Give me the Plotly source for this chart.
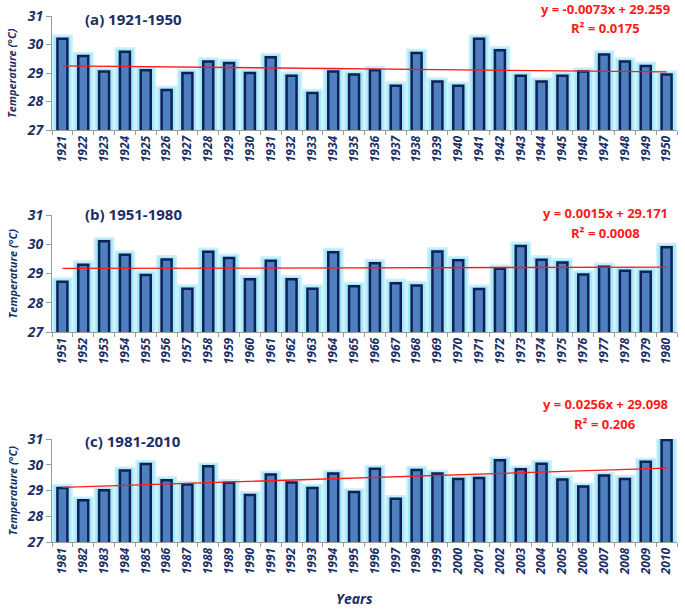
import plotly.graph_objects as go

years_a = [str(y) for y in range(1921, 1951)]
years_b = [str(y) for y in range(1951, 1981)]
years_c = [str(y) for y in range(1981, 2011)]

temp_a = [30.2, 29.6, 29.05, 29.75, 29.1, 28.4, 29.0, 29.4, 29.35, 29.0,
          29.55, 28.9, 28.3, 29.05, 28.95, 29.1, 28.55, 29.7, 28.7, 28.55,
          30.2, 29.8, 28.9, 28.7, 28.9, 29.05, 29.65, 29.4, 29.25, 28.95]
temp_b = [28.72, 29.3, 30.1, 29.64, 28.95, 29.48, 28.48, 29.74, 29.53, 28.8,
          29.44, 28.8, 28.48, 29.73, 28.56, 29.35, 28.67, 28.59, 29.75, 29.45,
          28.47, 29.16, 29.94, 29.47, 29.38, 28.97, 29.23, 29.09, 29.06, 29.9]
temp_c = [29.1, 28.62, 29.01, 29.78, 30.03, 29.4, 29.23, 29.94, 29.3, 28.83,
          29.62, 29.31, 29.1, 29.66, 28.94, 29.84, 28.68, 29.8, 29.66, 29.45,
          29.49, 30.17, 29.83, 30.04, 29.43, 29.16, 29.58, 29.45, 30.12, 30.96]

titles = ["(a) 1921-1950", "(b) 1951-1980", "(c) 1981-2010"]
slopes = [-0.0073, 0.0015, 0.0256]
intercepts = [29.259, 29.171, 29.098]
eq_texts = ["y = -0.0073x + 29.259", "y = 0.0015x + 29.171", "y = 0.0256x + 29.098"]
r2_texts = ["R² = 0.0175", "R² = 0.0008", "R² = 0.206"]
y_ticks = [27, 28, 29, 30, 31]

W, H = 685, 609
NAVY = "#1b2f66"
panels = [(years_a, temp_a), (years_b, temp_b), (years_c, temp_c)]
# pixel layout of plot areas (top, bottom)
rows_px = [(16, 130), (215, 332), (439, 542)]
x_px = (52, 677)
title_px = [19, 214, 441]
eq_px = [9, 213, 404]
r2_px = [28, 233, 424]

fig = go.Figure()
layout = dict(width=W, height=H, margin=dict(l=0, r=0, t=0, b=0, autoexpand=False),
              plot_bgcolor="white", paper_bgcolor="white", showlegend=False,
              barmode="overlay", annotations=[])

for i, ((yrs, vals), (top, bot)) in enumerate(zip(panels, rows_px)):
    xa = "x" if i == 0 else f"x{i+1}"
    ya = "y" if i == 0 else f"y{i+1}"
    # glow layers
    fig.add_trace(go.Bar(x=yrs, y=[v + 0.15 for v in vals], width=1.0,
                         marker=dict(color="#c9f1fb", line=dict(width=0)),
                         xaxis=xa, yaxis=ya, hoverinfo="skip"))
    fig.add_trace(go.Bar(x=yrs, y=[v + 0.08 for v in vals], width=0.82,
                         marker=dict(color="#a5e6f7", line=dict(width=0)),
                         xaxis=xa, yaxis=ya, hoverinfo="skip"))
    fig.add_trace(go.Bar(x=yrs, y=vals, width=0.48,
                         marker=dict(color="#4f7fbf", line=dict(color="#0c2259", width=2.5)),
                         xaxis=xa, yaxis=ya))
    n = len(yrs)
    trend = [slopes[i] * (k + 1) + intercepts[i] for k in range(n)]
    fig.add_trace(go.Scatter(x=yrs, y=trend, mode="lines",
                             line=dict(color="#ff1a1a", width=1.3),
                             xaxis=xa, yaxis=ya))
    kx = "xaxis" if i == 0 else f"xaxis{i+1}"
    ky = "yaxis" if i == 0 else f"yaxis{i+1}"
    layout[kx] = dict(domain=[x_px[0] / W, x_px[1] / W], anchor=ya, type="category",
                      automargin=False,
                      showline=True, linecolor="#9a9a9a", linewidth=1.2,
                      ticks="outside", tickson="boundaries", ticklen=4, tickcolor="#9a9a9a",
                      tickangle=-90, showgrid=False,
                      tickfont=dict(family="Open Sans", size=12, color=NAVY, weight="bold", style="italic"))
    layout[ky] = dict(domain=[1 - bot / H, 1 - top / H], anchor=xa, range=[27, 31],
                      automargin=False,
                      tickvals=y_ticks, showline=True, linecolor="#9a9a9a", linewidth=1.2,
                      ticks="outside", ticklen=5, tickcolor="#9a9a9a", showgrid=False, zeroline=False,
                      tickfont=dict(family="Open Sans", size=14, color=NAVY, weight="bold", style="italic"))
    layout["annotations"] += [
        dict(text=titles[i], xref="paper", yref="paper", x=83 / W, y=1 - title_px[i] / H,
             xanchor="left", yanchor="middle", showarrow=False,
             font=dict(family="Open Sans", size=15, color=NAVY, weight="bold")),
        dict(text=eq_texts[i], xref="paper", yref="paper", x=605 / W, y=1 - eq_px[i] / H,
             xanchor="center", yanchor="middle", showarrow=False,
             font=dict(family="Open Sans", size=13, color="#ff1a1a", weight="bold")),
        dict(text=r2_texts[i], xref="paper", yref="paper", x=605 / W, y=1 - r2_px[i] / H,
             xanchor="center", yanchor="middle", showarrow=False,
             font=dict(family="Open Sans", size=13, color="#ff1a1a", weight="bold")),
        dict(text="Temperature (°C)", xref="paper", yref="paper", x=12 / W,
             y=1 - (top + bot) / 2 / H, textangle=-90, xanchor="center", yanchor="middle",
             showarrow=False,
             font=dict(family="Open Sans", size=11, color=NAVY, weight="bold", style="italic")),
    ]

layout["annotations"].append(
    dict(text="Years", xref="paper", yref="paper", x=354 / W, y=1 - 598 / H,
         xanchor="center", yanchor="middle", showarrow=False,
         font=dict(family="Open Sans", size=14, color=NAVY, weight="bold", style="italic")))

fig.update_layout(**layout)
fig.write_html("out.html", config={"displayModeBar": False},
               post_script="document.body.style.margin='0';document.body.style.overflow='hidden';")
